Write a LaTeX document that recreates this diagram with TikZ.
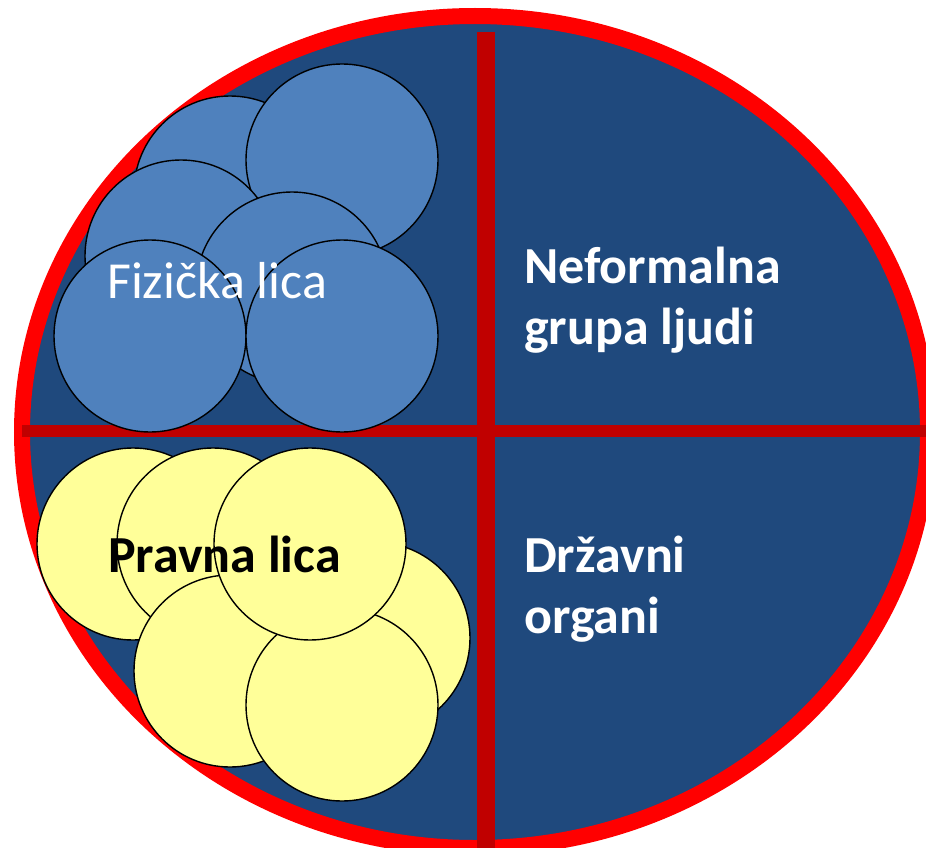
\documentclass[tikz,border=0pt]{standalone}
\usepackage{fontspec}
\setmainfont{Carlito}
\usetikzlibrary{positioning}
\definecolor{ovalblue}{HTML}{1F497D}
\definecolor{ovalred}{HTML}{FF0000}
\definecolor{crossred}{HTML}{C00000}
\definecolor{personblue}{HTML}{4F81BD}
\definecolor{entityyellow}{HTML}{FFFF99}
\begin{document}
\begin{tikzpicture}[x=1pt,y=-1pt,
  blob/.style={circle,draw=black,line width=1.4pt,minimum size=192pt,inner sep=0pt},
  person/.style={blob,fill=personblue},
  entity/.style={blob,fill=entityyellow},
  bar/.style={draw=crossred},
  lbl/.style={font=\fontsize{52}{61}\selectfont,inner sep=0pt,anchor=base west,align=left}]
\path[use as bounding box] (0,0) rectangle (926,848);
\clip (0,0) rectangle (926,848);
% the oval and the cross
\coordinate (c) at (475,432);
\draw[ovalred,line width=16pt,fill=ovalblue] (c) ellipse [x radius=453,y radius=416];
\coordinate (vt) at (486,32);
\coordinate (vb) at (486,848);
\coordinate (hl) at (22,431);
\coordinate (hr) at (926,431);
\draw[bar,line width=18pt] (vt) -- (vb);
\draw[bar,line width=12pt] (hl) -- (hr);
% circles
\foreach \n/\x/\y in {1/230/192,2/342/160,3/181/256,4/292/288,5/150/336,6/342/336}
  \node[person] (p\n) at (\x,\y) {};
\foreach \n/\x/\y in {1/133/544,2/213/544,3/374/638,4/230/671,5/342/705,6/310/544}
  \node[entity] (e\n) at (\x,\y) {};
% labels (base = last line)
\node[lbl,text=white] (fiz) at (107,298) {Fizička lica};
\node[lbl,font=\fontsize{52}{61}\selectfont\bfseries] (prav) at (108,572) {Pravna lica};
\node[lbl,text=white,font=\fontsize{52}{61}\selectfont\bfseries] (nef) at (524,344) {Neformalna\\grupa ljudi};
\node[lbl,text=white,font=\fontsize{52}{61}\selectfont\bfseries] (drz) at (524,633) {Državni\\organi};
\end{tikzpicture}
\end{document}
